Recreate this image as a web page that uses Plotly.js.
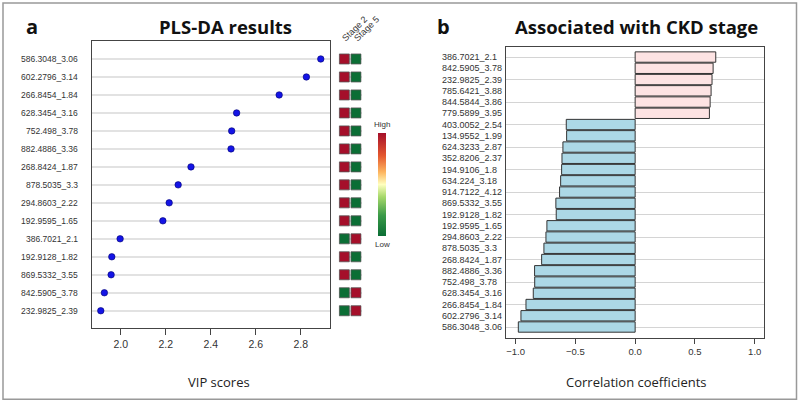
<!DOCTYPE html>
<html>
<head>
<meta charset="utf-8">
<script src="https://cdn.plot.ly/plotly-3.0.1.min.js"></script>
<style>html,body{margin:0;padding:0;background:#fff;}#chart{width:800px;height:403px;}</style>
</head>
<body>
<div id="chart"></div>
<script>
// ---- Panel a: PLS-DA VIP scores ----
const vipLabels = ["586.3048_3.06","602.2796_3.14","266.8454_1.84","628.3454_3.16","752.498_3.78",
  "882.4886_3.36","268.8424_1.87","878.5035_3.3","294.8603_2.22","192.9595_1.65",
  "386.7021_2.1","192.9128_1.82","869.5332_3.55","842.5905_3.78","232.9825_2.39"];
const vipScores = [2.889,2.825,2.704,2.515,2.493,2.490,2.312,2.255,2.215,2.187,1.997,1.960,1.957,1.927,1.911];
// relative level in each group (1 = high, 0 = low)
const stageNames = ["Stage 2","Stage 5"];
const stage2Level = [1,1,1,1,1,1,1,1,1,1,0,1,1,0,0];
const stage5Level = [0,0,0,0,0,0,0,0,0,0,1,0,0,1,1];
const vipTicks = [2.0,2.2,2.4,2.6,2.8];

// ---- Panel b: correlation with CKD stage ----
const corrLabels = ["386.7021_2.1","842.5905_3.78","232.9825_2.39","785.6421_3.88","844.5844_3.86",
  "779.5899_3.95","403.0052_2.54","134.9552_1.99","624.3233_2.87","352.8206_2.37",
  "194.9106_1.8","634.224_3.18","914.7122_4.12","869.5332_3.55","192.9128_1.82",
  "192.9595_1.65","294.8603_2.22","878.5035_3.3","268.8424_1.87","882.4886_3.36",
  "752.498_3.78","628.3454_3.16","266.8454_1.84","602.2796_3.14","586.3048_3.06"];
const corrValues = [0.674,0.652,0.643,0.635,0.627,0.621,-0.576,-0.573,-0.604,-0.612,
  -0.615,-0.623,-0.632,-0.663,-0.660,-0.738,-0.746,-0.763,-0.782,-0.841,
  -0.840,-0.852,-0.913,-0.955,-0.977];
const corrTicks = [-1.0,-0.5,0.0,0.5,1.0];

const W = 800, H = 403;
const px = x => x / W;
const py = y => 1 - y / H;

const labelFont = {family: "Liberation Sans, Arial, sans-serif", size: 8.5, color: "#333"};
const scale = [[0,"#0b6e35"],[0.2,"#3a9a48"],[0.38,"#a6d86a"],[0.5,"#ffffbf"],[0.62,"#fdb55f"],[0.78,"#e4572e"],[1,"#a50f2a"]];

const traces = [
  {
    type: "scatter", mode: "markers", x: vipScores, y: vipLabels, xaxis: "x", yaxis: "y",
    marker: {size: 6.5, color: "#1414e6", line: {color: "#00006e", width: 0.6}},
    hoverinfo: "x+y", showlegend: false
  },
  {
    type: "scatter", mode: "markers",
    x: vipLabels.map(() => stageNames[0]).concat(vipLabels.map(() => stageNames[1])),
    y: vipLabels.concat(vipLabels),
    xaxis: "x3", yaxis: "y",
    marker: {
      symbol: "square", size: 10,
      color: stage2Level.concat(stage5Level),
      colorscale: scale, cmin: 0, cmax: 1,
      line: {color: "#555", width: 0.8},
      showscale: true,
      colorbar: {
        x: px(378), xanchor: "left", xpad: 0, ypad: 0,
        y: py(185), yanchor: "middle", len: 103.5 / H, lenmode: "fraction",
        thickness: 8, outlinewidth: 0, ticks: "", showticklabels: false
      }
    },
    showlegend: false, hoverinfo: "x+y"
  },
  {
    type: "bar", orientation: "h", x: corrValues, y: corrLabels, xaxis: "x2", yaxis: "y2",
    marker: {color: corrValues.map(v => v >= 0 ? "#fde3e3" : "#acd8e6"), line: {color: "#333", width: 1}},
    showlegend: false, hoverinfo: "x+y"
  }
];

const annotations = [];
vipLabels.forEach(l => annotations.push({
  xref: "paper", yref: "y", x: px(79.5), y: l, text: l, showarrow: false,
  xanchor: "right", yanchor: "middle", font: labelFont
}));
corrLabels.forEach(l => annotations.push({
  xref: "paper", yref: "y2", x: px(440), y: l, text: l, showarrow: false,
  xanchor: "left", yanchor: "middle", font: Object.assign({}, labelFont, {size: 9})
}));
const tFont = {family: "Open Sans, sans-serif", size: 18.5, color: "#111", weight: "bold"};
const C = {showarrow: false, xanchor: "center", yanchor: "middle", xref: "paper", yref: "paper"};
const smallFont = {family: "Liberation Sans, Arial, sans-serif", size: 8, color: "#333"};
const stageFont = {family: "Liberation Sans, Arial, sans-serif", size: 9, color: "#333"};
annotations.push(
  Object.assign({}, C, {x: px(32), y: py(27), text: "<b>a</b>", font: Object.assign({}, tFont, {size: 20})}),
  Object.assign({}, C, {x: px(443), y: py(27), text: "<b>b</b>", font: Object.assign({}, tFont, {size: 20})}),
  Object.assign({}, C, {x: px(225), y: py(27), text: "<b>PLS-DA results</b>", font: tFont}),
  Object.assign({}, C, {x: px(636.7), y: py(27), text: "<b>Associated with CKD stage</b>", font: tFont}),
  Object.assign({}, C, {x: px(219), y: py(382), text: "VIP scores", font: {family: "Open Sans, sans-serif", size: 13, color: "#222"}}),
  Object.assign({}, C, {x: px(636), y: py(382), text: "Correlation coefficients", font: {family: "Open Sans, sans-serif", size: 13, color: "#222"}}),
  Object.assign({}, C, {x: px(337), y: py(46), text: stageNames[0], textangle: -45, xanchor: "left", yanchor: "bottom", font: stageFont}),
  Object.assign({}, C, {x: px(349), y: py(46), text: stageNames[1], textangle: -45, xanchor: "left", yanchor: "bottom", font: stageFont}),
  Object.assign({}, C, {x: px(382), y: py(124.5), text: "High", font: smallFont}),
  Object.assign({}, C, {x: px(382), y: py(245), text: "Low", font: smallFont})
);

const layout = {
  width: W, height: H,
  margin: {l: 0, r: 0, t: 0, b: 0, pad: 0},
  paper_bgcolor: "#fff", plot_bgcolor: "#fff",
  font: {family: "Liberation Sans, Arial, sans-serif", color: "#333"},
  showlegend: false,
  bargap: 0.08,
  xaxis: {
    domain: [px(92), px(330)], anchor: "y", range: [1.872, 2.930],
    tickvals: vipTicks, tickformat: ".1f", ticks: "outside", ticklen: 6, tickcolor: "#444",
    tickfont: {size: 10.5, color: "#333"},
    showgrid: false, zeroline: false, showline: true, linecolor: "#444", linewidth: 1, mirror: true
  },
  yaxis: {
    domain: [py(328), py(41)], anchor: "x", type: "category",
    categoryorder: "array", categoryarray: vipLabels, range: [14.96, -1.0],
    showticklabels: false, ticks: "", showgrid: true, gridcolor: "#e2e2e2", gridwidth: 2,
    zeroline: false, showline: true, linecolor: "#444", linewidth: 1, mirror: true
  },
  xaxis3: {
    domain: [px(338.5), px(361.8)], anchor: "y", type: "category",
    categoryorder: "array", categoryarray: stageNames, range: [-0.5, 1.5], visible: false
  },
  xaxis2: {
    domain: [px(506), px(764.3)], anchor: "y2", range: [-1.08, 1.08],
    tickvals: corrTicks, tickformat: ".1f", ticks: "outside", ticklen: 5, tickcolor: "#444",
    tickfont: {size: 9.5, color: "#333"},
    showgrid: false, zeroline: false, showline: true, linecolor: "#444", linewidth: 1, mirror: true
  },
  yaxis2: {
    domain: [py(337.7), py(46.7)], anchor: "x2", type: "category",
    categoryorder: "array", categoryarray: corrLabels, range: [24.95, -0.92],
    showticklabels: false, ticks: "", showgrid: true, gridcolor: "#d4d4d4", gridwidth: 1,
    zeroline: false, showline: true, linecolor: "#444", linewidth: 1, mirror: true
  },
  annotations: annotations,
  shapes: [
    {type: "rect", xref: "paper", yref: "paper", x0: px(3), x1: px(796.5), y0: py(399.3), y1: py(3),
     line: {color: "#999", width: 1.5}, fillcolor: "rgba(0,0,0,0)"}
  ]
};

Plotly.newPlot("chart", traces, layout, {displayModeBar: false, staticPlot: true});
</script>
</body>
</html>
